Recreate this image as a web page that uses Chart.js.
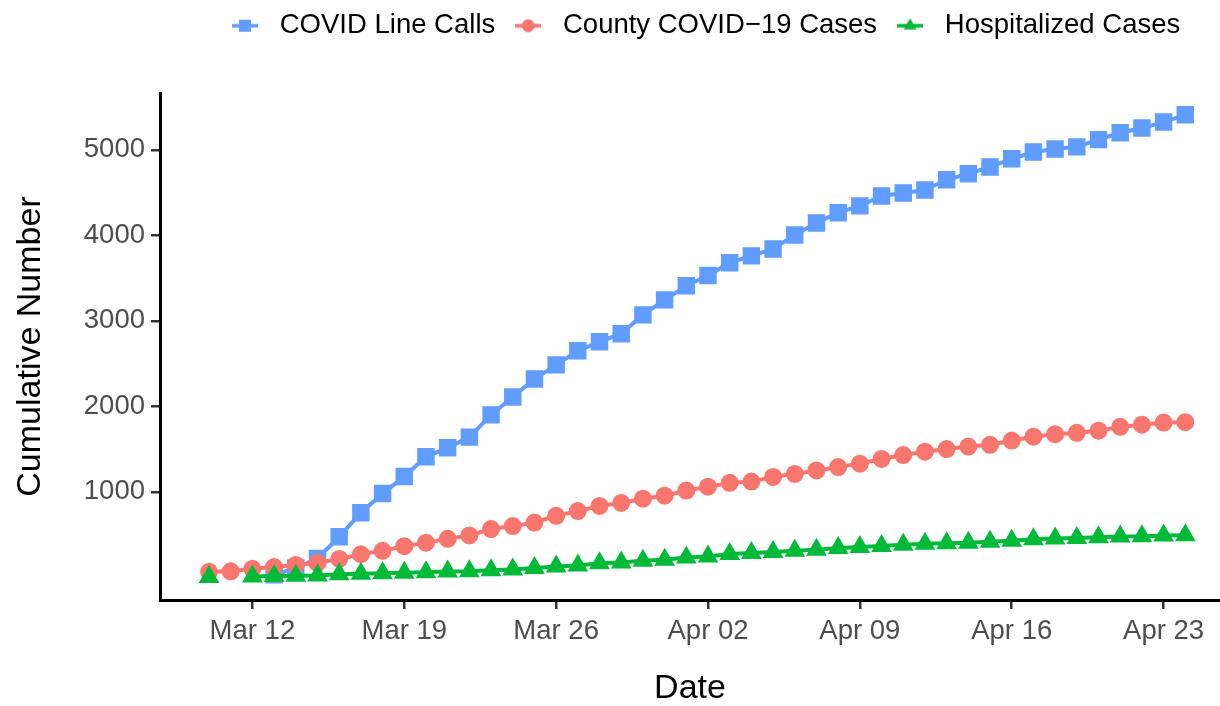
<!DOCTYPE html>
<html>
<head>
<meta charset="utf-8">
<script src="https://cdn.jsdelivr.net/npm/chart.js@4.4.1/dist/chart.umd.min.js"></script>
<style>
  html, body { margin: 0; padding: 0; background: #fff; }
  #wrap { width: 1220px; height: 706px; }
</style>
</head>
<body>
<div id="wrap"><canvas id="grafico"></canvas></div>
<script>
// fechas, Mar 10 a Apr 24 (un punto por dia)
const fechas = ['Mar 10','Mar 11','Mar 12','Mar 13','Mar 14','Mar 15','Mar 16','Mar 17','Mar 18','Mar 19',
  'Mar 20','Mar 21','Mar 22','Mar 23','Mar 24','Mar 25','Mar 26','Mar 27','Mar 28','Mar 29','Mar 30','Mar 31',
  'Apr 01','Apr 02','Apr 03','Apr 04','Apr 05','Apr 06','Apr 07','Apr 08','Apr 09','Apr 10','Apr 11','Apr 12',
  'Apr 13','Apr 14','Apr 15','Apr 16','Apr 17','Apr 18','Apr 19','Apr 20','Apr 21','Apr 22','Apr 23','Apr 24'];

const llamadas = [null, null, null, 30, 110, 220, 475, 755, 980, 1180,
  1410, 1515, 1640, 1900, 2110, 2320, 2485, 2650, 2755, 2850, 3070, 3245,
  3410, 3530, 3680, 3760, 3840, 4005, 4145, 4265, 4345, 4460, 4495, 4530,
  4650, 4720, 4800, 4895, 4975, 5010, 5035, 5120, 5200, 5255, 5325, 5410];

const casos = [65, 70, 100, 120, 145, 170, 215, 270, 310, 365,
  405, 450, 490, 565, 600, 640, 720, 775, 835, 870, 920, 955,
  1015, 1060, 1105, 1120, 1175, 1210, 1250, 1290, 1330, 1385, 1430, 1470,
  1500, 1530, 1550, 1600, 1645, 1675, 1690, 1715, 1760, 1785, 1810, 1815];

const hospitalizados = [5, null, 10, 15, 20, 22, 35, 42, 48, 55,
  60, 68, 72, 82, 92, 108, 126, 138, 166, 173, 193, 205,
  231, 243, 272, 284, 295, 310, 322, 342, 354, 368, 382, 392,
  398, 405, 415, 428, 445, 455, 460, 468, 478, 480, 490, 492];

// ticks del eje x (dia desde Mar 10) y eje y
const diasTicks = [2, 9, 16, 23, 30, 37, 44];
const etiquetasTicks = ['Mar 12', 'Mar 19', 'Mar 26', 'Apr 02', 'Apr 09', 'Apr 16', 'Apr 23'];
const ticksY = [1000, 2000, 3000, 4000, 5000];

const aPuntos = (arr) => arr.map((v, i) => ({ x: i, y: v }));

const fuente = 'Liberation Sans, Arial, sans-serif';

// clave de la leyenda estilo ggplot: linea + punto
function claveLeyenda(color, estilo, radio) {
  const c = document.createElement('canvas');
  c.width = 26;
  c.height = 20;
  const ctx = c.getContext('2d');
  ctx.strokeStyle = color;
  ctx.lineWidth = 3.5;
  ctx.beginPath();
  ctx.moveTo(0, 10);
  ctx.lineTo(26, 10);
  ctx.stroke();
  ctx.fillStyle = color;
  Chart.helpers.drawPoint(ctx, { pointStyle: estilo, radius: radio, borderWidth: 0, rotation: 0 }, 13, 10);
  return c;
}
const claves = [
  claveLeyenda('#619CFF', 'rect', 8.5),
  claveLeyenda('#F8766D', 'circle', 6.5),
  claveLeyenda('#00BA38', 'triangle', 7.5),
];

// altura de la leyenda y posicion horizontal como en ggplot
const ajustarLeyenda = {
  id: 'ajustarLeyenda',
  beforeUpdate(chart) {
    const l = chart.legend;
    if (l && !l._ajustada) {
      const fitOriginal = l.fit;
      l.fit = function () {
        fitOriginal.call(this);
        this.height = 93;
      };
      l._ajustada = true;
    }
  },
  afterLayout(chart) {
    const l = chart.legend;
    const ancho = l.right - l.left;
    l.left = 212;
    l.right = 212 + ancho;
  },
};

const grafica = new Chart(document.getElementById('grafico'), {
  type: 'line',
  data: {
    datasets: [
      {
        label: 'COVID Line Calls',
        data: aPuntos(llamadas),
        borderColor: '#619CFF',
        backgroundColor: '#619CFF',
        pointStyle: 'rect',
        pointRadius: 9.5,
        borderWidth: 4,
        order: 3,
      },
      {
        label: 'County COVID\u221219 Cases',
        data: aPuntos(casos),
        borderColor: '#F8766D',
        backgroundColor: '#F8766D',
        pointStyle: 'circle',
        pointRadius: 7,
        borderWidth: 4,
        order: 2,
      },
      {
        label: 'Hospitalized Cases',
        data: aPuntos(hospitalizados),
        borderColor: '#00BA38',
        backgroundColor: '#00BA38',
        pointStyle: 'triangle',
        pointRadius: 8,
        borderWidth: 4,
        order: 1,
      },
    ],
  },
  options: {
    responsive: true,
    maintainAspectRatio: false,
    animation: false,
    spanGaps: false,
    elements: { line: { tension: 0 }, point: { borderWidth: 0 } },
    layout: { padding: 0, autoPadding: false },
    plugins: {
      tooltip: { enabled: false },
      legend: {
        position: 'top',
        align: 'start',
        labels: {
          usePointStyle: true,
          pointStyleWidth: 42,
          boxHeight: 20,
          padding: 12,
          color: '#000',
          font: { family: fuente, size: 27.5 },
          generateLabels: (chart) => {
            const items = Chart.defaults.plugins.legend.labels.generateLabels(chart);
            items.forEach((it) => { it.pointStyle = claves[it.datasetIndex]; });
            return items;
          },
          sort: (a, b) => a.datasetIndex - b.datasetIndex,
        },
      },
    },
    scales: {
      x: {
        type: 'linear',
        min: -2.26,
        max: 46.6,
        afterBuildTicks: (eje) => { eje.ticks = diasTicks.map((v) => ({ value: v })); },
        afterFit: (eje) => {
          eje.height = 106;
          eje.paddingLeft = 0;
          eje.paddingRight = 0;
        },
        ticks: {
          color: '#4d4d4d',
          font: { family: fuente, size: 27.5 },
          padding: 6,
          maxRotation: 0,
          autoSkip: false,
          callback: (v) => etiquetasTicks[diasTicks.indexOf(v)],
        },
        grid: { drawOnChartArea: false, drawTicks: true, tickLength: 9, color: '#333', lineWidth: 2.5 },
        border: { display: true, color: '#000', width: 3 },
        title: {
          display: true,
          text: 'Date',
          color: '#000',
          font: { family: fuente, size: 34, lineHeight: 1 },
          padding: { top: 0, bottom: 0 },
        },
      },
      y: {
        min: -265,
        max: 5665,
        afterBuildTicks: (eje) => { eje.ticks = ticksY.map((v) => ({ value: v })); },
        afterFit: (eje) => { eje.width = 160; },
        ticks: {
          color: '#4d4d4d',
          font: { family: fuente, size: 27.5 },
          padding: 6,
          callback: (v) => String(v),
        },
        grid: { drawOnChartArea: false, drawTicks: true, tickLength: 9, color: '#333', lineWidth: 2.5 },
        border: { display: true, color: '#000', width: 3 },
        title: {
          display: true,
          text: 'Cumulative Number',
          color: '#000',
          font: { family: fuente, size: 34, lineHeight: 1 },
          padding: { top: 14, bottom: 0 },
        },
      },
    },
  },
  plugins: [ajustarLeyenda],
});
</script>
</body>
</html>
